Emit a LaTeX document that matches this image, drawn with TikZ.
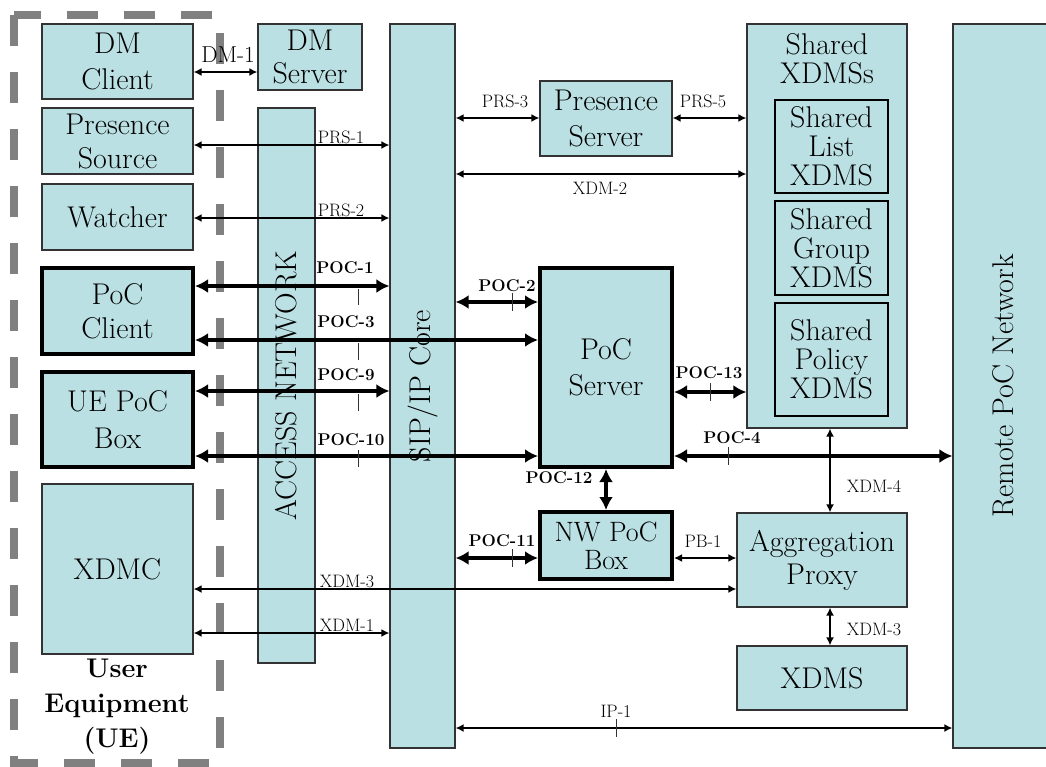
\documentclass[tikz,border=0pt]{standalone}
\usepackage{tikz}
\usetikzlibrary{arrows.meta}

\definecolor{boxfill}{RGB}{186,224,227}
\definecolor{uegray}{RGB}{128,128,128}
\tikzset{
  box/.style={draw=black!80, line width=1.2pt, fill=boxfill, align=center, inner sep=0pt, font=\fontsize{30}{34}\selectfont},
  pocbox/.style={box, draw=black, line width=4pt},
  thinarr/.style={{Latex[length=8pt,width=8pt]}-{Latex[length=8pt,width=8pt]}, line width=1.6pt},
  thickarr/.style={{Latex[length=13pt,width=14pt]}-{Latex[length=13pt,width=14pt]}, line width=4.5pt},
  lbl/.style={inner sep=0pt, anchor=base, font=\fontsize{18}{20}\selectfont},
  plbl/.style={inner sep=0pt, anchor=base, font=\fontsize{17}{19}\selectfont\bfseries},
  tickmark/.style={line width=1pt, black!80}
}

\begin{document}
\begin{tikzpicture}[x=1pt,y=-1pt]
    \clip (0,0) rectangle (1046,766);
    \draw[uegray, line width=8pt, dash pattern=on 31pt off 26pt] (14,15) -- (14,763) -- (220,763) -- (220,15) -- cycle;

    \node[box, minimum width=151pt, minimum height=75pt, font=\fontsize{30}{36}\selectfont] (dmc) at (117.5,61.5) {DM\\Client};
    \node[box, minimum width=104pt, minimum height=66pt, font=\fontsize{30}{33}\selectfont] (dms) at (310,57) {DM\\Server};
    \node[box, minimum width=151pt, minimum height=66pt] (psrc) at (117.5,141) {Presence\\Source};
    \node[box, minimum width=151pt, minimum height=66pt] (watch) at (117.5,217) {Watcher};
    \node[pocbox, minimum width=151pt, minimum height=86pt] (pocc) at (117.5,311) {PoC\\Client};
    \node[pocbox, minimum width=151pt, minimum height=95pt, font=\fontsize{30}{37}\selectfont] (uebox) at (117.5,419.5) {UE PoC\\Box};
    \node[box, minimum width=151pt, minimum height=170pt] (xdmc) at (117.5,569) {XDMC};
    \node[align=center, inner sep=0pt, font=\fontsize{27}{35}\selectfont\bfseries] (uetext) at (117,707) {User\\Equipment\\(UE)};

    \node[box, minimum width=57pt, minimum height=555pt] (access) at (286.5,385.5) {};
    \node[rotate=90, inner sep=0pt, font=\fontsize{30}{34}\selectfont] (accesstext) at (access.center) {ACCESS NETWORK};
    \node[box, minimum width=65pt, minimum height=724pt] (sip) at (422.5,386) {};
    \node[rotate=90, inner sep=0pt, font=\fontsize{30}{34}\selectfont] (siptext) at (sip.center) {SIP/IP Core};

    \node[box, minimum width=132pt, minimum height=75pt, font=\fontsize{30}{36}\selectfont] (pres) at (606,118.5) {Presence\\Server};
    \node[pocbox, minimum width=132pt, minimum height=199pt, font=\fontsize{30}{36}\selectfont] (pocs) at (606,367.5) {PoC\\Server};
    \node[pocbox, minimum width=132pt, minimum height=67pt, font=\fontsize{28}{28}\selectfont] (nwbox) at (606,545.5) {NW PoC\\Box};

    \node[box, minimum width=160pt, minimum height=404pt] (shared) at (827,226) {};
    \node[align=center, inner sep=0pt, font=\fontsize{30}{29}\selectfont] (sharedtitle) at (827,59) {Shared\\XDMSs};
    \node[box, draw=black, minimum width=113pt, minimum height=93pt, font=\fontsize{30}{29}\selectfont] (slist) at (831.5,146.5) {Shared\\List\\XDMS};
    \node[box, draw=black, minimum width=113pt, minimum height=94pt, font=\fontsize{30}{29}\selectfont] (sgroup) at (831.5,248) {Shared\\Group\\XDMS};
    \node[box, draw=black, minimum width=113pt, minimum height=113pt, font=\fontsize{30}{29}\selectfont] (spolicy) at (831.5,359.5) {Shared\\Policy\\XDMS};

    \node[box, minimum width=170pt, minimum height=94pt, font=\fontsize{30}{33}\selectfont] (aggr) at (822,560) {Aggregation\\Proxy};
    \node[box, minimum width=170pt, minimum height=64pt] (xdms) at (822,678) {XDMS};

    \node[box, minimum width=100pt, minimum height=724pt] (remote) at (1003,386) {};
    \node[rotate=90, inner sep=0pt, font=\fontsize{30}{34}\selectfont] (remotetext) at (remote.center) {Remote PoC Network};

    \draw[thinarr] (dmc.east |- 0,72) -- (dms.west |- 0,72);
    \draw[thinarr] (psrc.east |- 0,145) -- (sip.west |- 0,145);
    \draw[thinarr] (watch.east |- 0,218) -- (sip.west |- 0,218);
    \draw[thinarr] (sip.east |- 0,118) -- (pres.west |- 0,118);
    \draw[thinarr] (pres.east |- 0,118) -- (shared.west |- 0,118);
    \draw[thinarr] (sip.east |- 0,174) -- (shared.west |- 0,174);
    \draw[thickarr] (pocc.east |- 0,286) -- (sip.west |- 0,286);
    \draw[thickarr] (pocc.east |- 0,340) -- (pocs.west |- 0,340);
    \draw[thickarr] (uebox.east |- 0,391) -- (sip.west |- 0,391);
    \draw[thickarr] (uebox.east |- 0,456) -- (pocs.west |- 0,456);
    \draw[thickarr] (sip.east |- 0,302) -- (pocs.west |- 0,302);
    \draw[thickarr] (pocs.east |- 0,392) -- (shared.west |- 0,392);
    \draw[thickarr] (pocs.east |- 0,456) -- (remote.west |- 0,456);
    \draw[thickarr] (pocs.south) -- (nwbox.north);
    \draw[thickarr] (sip.east |- 0,558) -- (nwbox.west |- 0,558);
    \draw[thinarr] (nwbox.east |- 0,558) -- (aggr.west |- 0,558);
    \draw[thinarr] (xdmc.east |- 0,589) -- (aggr.west |- 0,589);
    \draw[thinarr] (xdmc.east |- 0,633) -- (sip.west |- 0,633);
    \draw[thinarr] (shared.south -| 830,0) -- (aggr.north -| 830,0);
    \draw[thinarr] (aggr.south -| 830,0) -- (xdms.north -| 830,0);
    \draw[thinarr] (sip.east |- 0,728) -- (remote.west |- 0,728);

    \draw[tickmark] (358,289) -- (358,305);
    \draw[tickmark] (358,343) -- (358,360);
    \draw[tickmark] (358,394) -- (358,411);
    \draw[tickmark] (358,450) -- (358,467);
    \draw[tickmark] (512,293) -- (512,311);
    \draw[tickmark] (710,383) -- (710,401);
    \draw[tickmark] (728,447) -- (728,465);
    \draw[tickmark] (512,549) -- (512,567);
    \draw[tickmark] (616,719) -- (616,737);

    \node[lbl, font=\fontsize{23}{25}\selectfont] (ldm) at (228,62) {DM-1};
    \node[lbl] (lprsa) at (341,143) {PRS-1};
    \node[lbl] (lprsb) at (341,216) {PRS-2};
    \node[lbl] (lprsc) at (505,107) {PRS-3};
    \node[lbl] (lprse) at (703,107) {PRS-5};
    \node[lbl] (lxdmb) at (600,194) {XDM-2};
    \node[plbl] (lpoca) at (345,273) {POC-1};
    \node[plbl] (lpocc) at (346,327) {POC-3};
    \node[plbl] (lpoci) at (346,380) {POC-9};
    \node[plbl] (lpocj) at (351,445) {POC-10};
    \node[plbl] (lpocb) at (507,291) {POC-2};
    \node[plbl] (lpocm) at (709,378) {POC-13};
    \node[plbl] (lpocd) at (732,443) {POC-4};
    \node[plbl] (lpocl) at (559,483) {POC-12};
    \node[plbl] (lpock) at (502,546) {POC-11};
    \node[lbl] (lpb) at (703,547) {PB-1};
    \node[lbl] (lxdmc) at (347,587) {XDM-3};
    \node[lbl] (lxdma) at (347,631) {XDM-1};
    \node[lbl] (lxdmd) at (874,492) {XDM-4};
    \node[lbl] (lxdme) at (874,635) {XDM-3};
    \node[lbl] (lip) at (616,717) {IP-1};
\end{tikzpicture}
\end{document}
